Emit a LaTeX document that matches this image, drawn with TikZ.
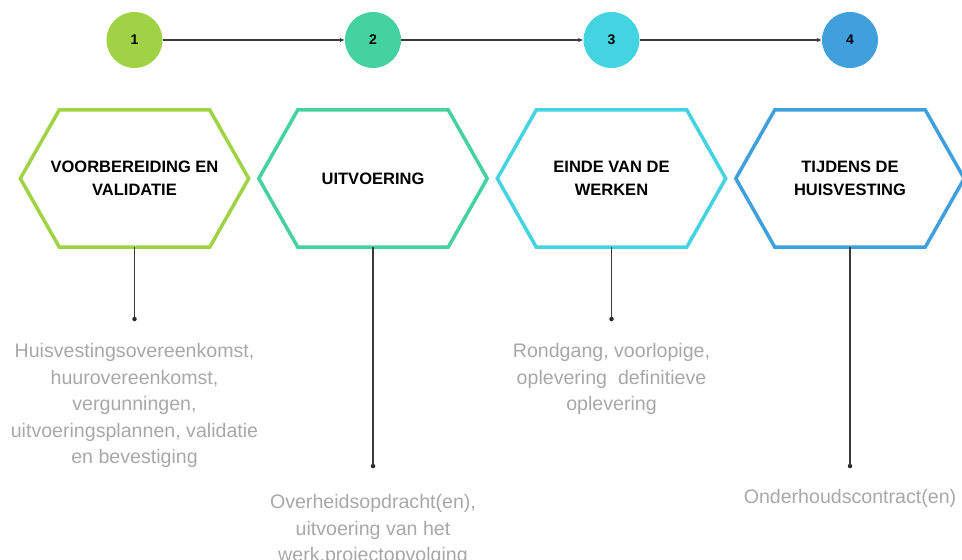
\documentclass[tikz,border=0pt]{standalone}
\usepackage{fontspec}
\setmainfont{Liberation Sans}
\usetikzlibrary{calc,arrows.meta}

% phase colours
\definecolor{phaseA}{HTML}{A0D246}
\definecolor{phaseB}{HTML}{46D1A0}
\definecolor{phaseC}{HTML}{44D3E0}
\definecolor{phaseD}{HTML}{409FDD}
\definecolor{linegray}{HTML}{3A3A3A}
\definecolor{notegray}{HTML}{A8A8A8}

% flat-topped hexagon drawn around a named node: #1 node, #2 colour
\newcommand\hexframe[2]{%
  \draw[hexline,draw=#2]
    ($(#1.north west)+(39,0)$) -- ($(#1.north east)+(-39,0)$) -- (#1.east)
    -- ($(#1.south east)+(-39,0)$) -- ($(#1.south west)+(39,0)$) -- (#1.west) -- cycle;}

\begin{document}
\begin{tikzpicture}[x=1pt,y=-1pt,
  stepnum/.style={circle,minimum size=56pt,inner sep=0pt,
    font=\bfseries\fontsize{14}{14}\selectfont},
  link/.style={draw=linegray,line width=1.3pt,-{Latex[length=5pt,width=4.5pt]}},
  hexnode/.style={minimum width=228pt,minimum height=137pt,inner sep=0pt,
    align=center,font=\bfseries\fontsize{16.5}{23}\selectfont},
  hexline/.style={line width=3.5pt,line join=miter},
  stem/.style={draw=linegray,line width=1.4pt},
  tip/.style={circle,fill=black!85,inner sep=0pt,minimum size=4.5pt},
  note/.style={anchor=north,inner sep=0pt,align=center,text=notegray,
    font=\fontsize{19.6}{26.6}\selectfont}
]
\useasboundingbox (0,0) rectangle (962,560);
\clip (0,0) rectangle (962,560);

% numbered steps
\node[stepnum,fill=phaseA] (c1) at (134.5,40) {1};
\node[stepnum,fill=phaseB] (c2) at (373,40) {2};
\node[stepnum,fill=phaseC] (c3) at (611.5,40) {3};
\node[stepnum,fill=phaseD] (c4) at (850,40) {4};
\draw[link] (c1) -- (c2);
\draw[link] (c2) -- (c3);
\draw[link] (c3) -- (c4);

% phase hexagons
\node[hexnode] (h1) at (134.5,178.5) {VOORBEREIDING EN\\VALIDATIE};
\node[hexnode] (h2) at (373,178.5) {UITVOERING};
\node[hexnode] (h3) at (611.5,178.5) {EINDE VAN DE\\WERKEN};
\node[hexnode] (h4) at (850,178.5) {TIJDENS DE\\HUISVESTING};
\hexframe{h1}{phaseA}
\hexframe{h2}{phaseB}
\hexframe{h3}{phaseC}
\hexframe{h4}{phaseD}

% stems with end dots
\node[tip] (d1) at (134.5,319) {};
\node[tip] (d2) at (373,466) {};
\node[tip] (d3) at (611.5,319) {};
\node[tip] (d4) at (850,466) {};
\draw[stem] (h1.south) -- (d1.center);
\draw[stem] (h2.south) -- (d2.center);
\draw[stem] (h3.south) -- (d3.center);
\draw[stem] (h4.south) -- (d4.center);

% descriptions
\node[note] (t1) at (134.5,343) {Huisvestingsovereenkomst,\\huurovereenkomst,\\vergunningen,\\uitvoeringsplannen, validatie\\en bevestiging};
\node[note] (t2) at (373,494) {Overheidsopdracht(en),\\uitvoering van het\\werk,projectopvolging};
\node[note] (t3) at (611.5,343) {Rondgang, voorlopige,\\oplevering\ \ definitieve\\oplevering};
\node[note] (t4) at (850,489) {Onderhoudscontract(en)};
\end{tikzpicture}
\end{document}
